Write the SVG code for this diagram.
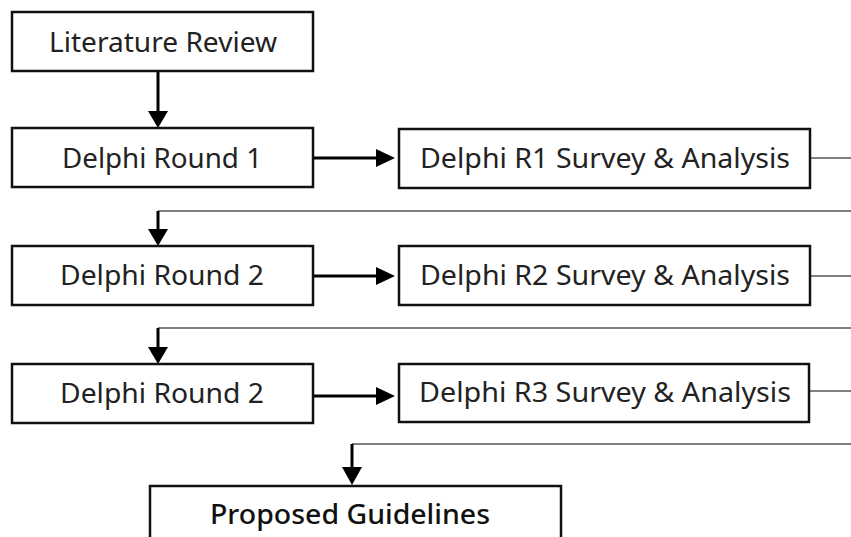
<svg xmlns="http://www.w3.org/2000/svg" width="851" height="537" viewBox="0 0 851 537">
<style>
.box{fill:#fff;stroke:#111;stroke-width:2.5}
.t{font-family:"Noto Sans","Open Sans",sans-serif;font-size:27px;fill:#222;text-anchor:middle}
.b{font-weight:500;fill:#111}
.thick{stroke:#000;stroke-width:3;fill:none}
.thin{stroke:#555;stroke-width:1.5;fill:none}
.head{fill:#000}
</style>
<rect width="851" height="537" fill="#fff"/>
<g id="connectors">
<line class="thick" x1="158" y1="71" x2="158" y2="114"/>
<polygon class="head" points="148,111 168,111 158,128"/>
<line class="thick" x1="313" y1="158" x2="380" y2="158"/>
<polygon class="head" points="376,149 376,167 395,158"/>
<line class="thin" x1="810" y1="158" x2="851" y2="158"/>
<polyline class="thin" points="851,211 158,211"/>
<line class="thick" x1="158" y1="211" x2="158" y2="232"/>
<polygon class="head" points="148,229 168,229 158,246"/>
<line class="thick" x1="313" y1="276" x2="380" y2="276"/>
<polygon class="head" points="376,267 376,285 395,276"/>
<line class="thin" x1="810" y1="276" x2="851" y2="276"/>
<polyline class="thin" points="851,328 158,328"/>
<line class="thick" x1="158" y1="328" x2="158" y2="350"/>
<polygon class="head" points="148,347 168,347 158,364"/>
<line class="thick" x1="313" y1="396" x2="380" y2="396"/>
<polygon class="head" points="376,387 376,405 395,396"/>
<line class="thin" x1="810" y1="391" x2="851" y2="391"/>
<polyline class="thin" points="851,444 352,444"/>
<line class="thick" x1="352" y1="444" x2="352" y2="470"/>
<polygon class="head" points="342,467 362,467 352,485"/>
</g>
<g id="literature-review">
<rect class="box" x="12" y="12" width="301" height="59"/>
<text class="t" x="163" y="52" textLength="228" lengthAdjust="spacingAndGlyphs">Literature Review</text>
</g>
<g id="delphi-round-1">
<rect class="box" x="12" y="128" width="301" height="59"/>
<text class="t" x="162" y="168" textLength="200" lengthAdjust="spacingAndGlyphs">Delphi Round 1</text>
</g>
<g id="delphi-r1">
<rect class="box" x="399" y="129" width="411" height="59"/>
<text class="t" x="605" y="168" textLength="370" lengthAdjust="spacingAndGlyphs">Delphi R1 Survey &amp; Analysis</text>
</g>
<g id="delphi-round-2a">
<rect class="box" x="12" y="246" width="301" height="59"/>
<text class="t" x="162" y="285" textLength="204" lengthAdjust="spacingAndGlyphs">Delphi Round 2</text>
</g>
<g id="delphi-r2">
<rect class="box" x="399" y="246" width="411" height="59"/>
<text class="t" x="605" y="285" textLength="370" lengthAdjust="spacingAndGlyphs">Delphi R2 Survey &amp; Analysis</text>
</g>
<g id="delphi-round-2b">
<rect class="box" x="12" y="364" width="301" height="59"/>
<text class="t" x="162" y="403" textLength="204" lengthAdjust="spacingAndGlyphs">Delphi Round 2</text>
</g>
<g id="delphi-r3">
<rect class="box" x="399" y="364" width="410" height="58"/>
<text class="t" x="605" y="402" textLength="372" lengthAdjust="spacingAndGlyphs">Delphi R3 Survey &amp; Analysis</text>
</g>
<g id="proposed-guidelines">
<rect class="box" x="150" y="486" width="411" height="70"/>
<text class="t b" x="350" y="524" textLength="280" lengthAdjust="spacingAndGlyphs">Proposed Guidelines</text>
</g>
</svg>
